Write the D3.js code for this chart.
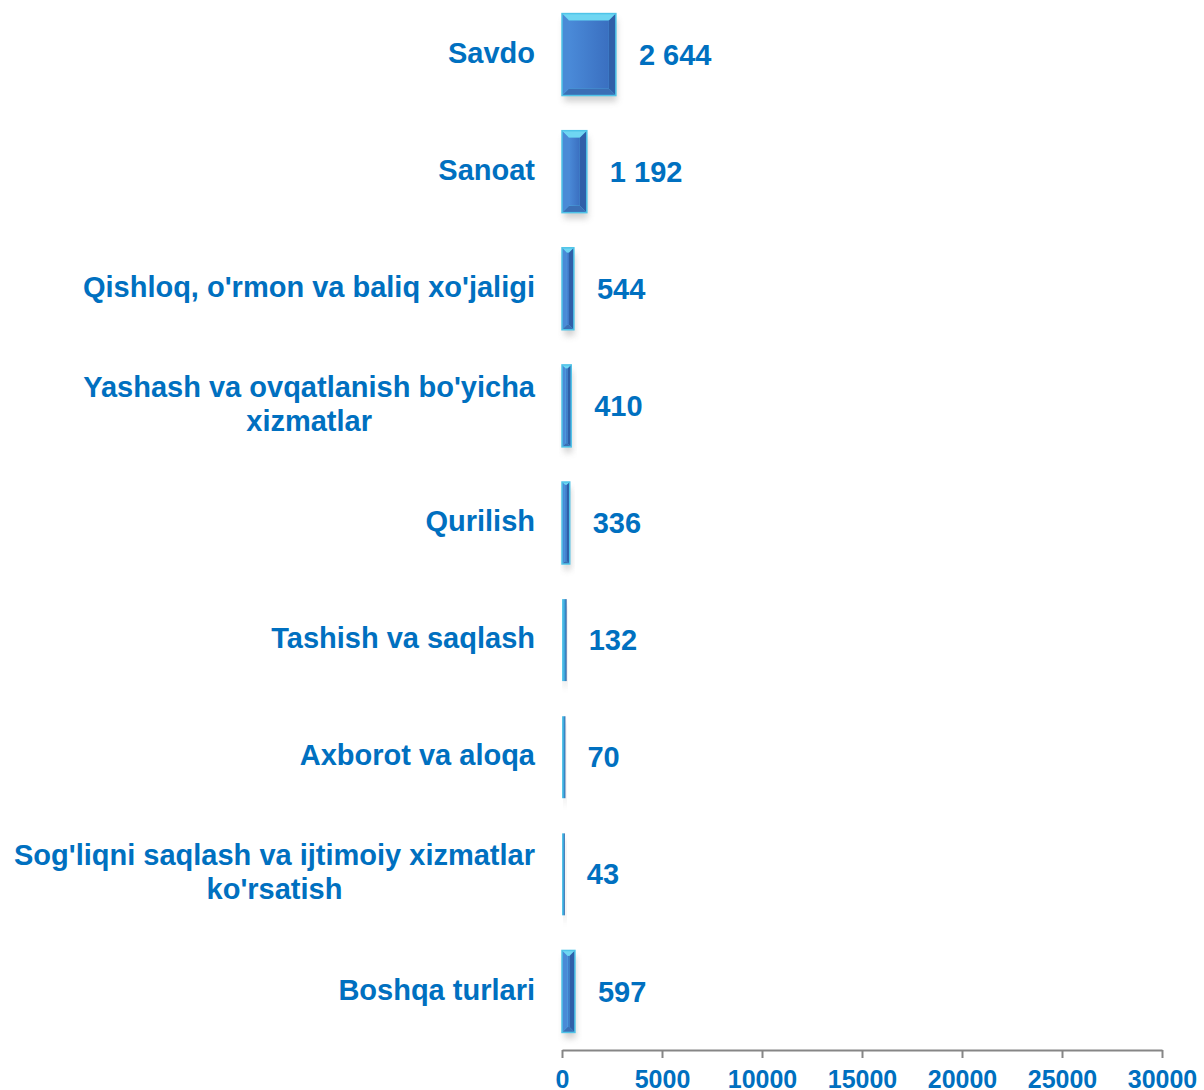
<!DOCTYPE html>
<html>
<head>
<meta charset="utf-8">
<script src="https://cdn.jsdelivr.net/npm/d3@7"></script>
<style>
  body { margin: 0; background: #fff; }
  text { font-family: "Liberation Sans", Arial, sans-serif; font-weight: bold; fill: #0070C0; }
</style>
</head>
<body>
<div id="chart"></div>
<script>
// data
var categories = [
    ["Savdo"],
    ["Sanoat"],
    ["Qishloq, o'rmon va baliq xo'jaligi"],
    ["Yashash va ovqatlanish bo'yicha", "xizmatlar"],
    ["Qurilish"],
    ["Tashish va saqlash"],
    ["Axborot va aloqa"],
    ["Sog'liqni saqlash va ijtimoiy xizmatlar", "ko'rsatish"],
    ["Boshqa turlari"]
];
var values = [2644, 1192, 544, 410, 336, 132, 70, 43, 597];
var valueLabels = ["2 644", "1 192", "544", "410", "336", "132", "70", "43", "597"];
var xTicks = [0, 5000, 10000, 15000, 20000, 25000, 30000];

var W = 1204, H = 1090;

var svg = d3.select("#chart").append("svg")
    .attr("width", W)
    .attr("height", H);

var defs = svg.append("defs");
var grad = defs.append("linearGradient").attr("id", "face")
    .attr("x1", 0).attr("y1", 0).attr("x2", 1).attr("y2", 0);
grad.append("stop").attr("offset", "0%").attr("stop-color", "#4a8ad8");
grad.append("stop").attr("offset", "100%").attr("stop-color", "#3a6fc0");
var thin = defs.append("linearGradient").attr("id", "thin")
    .attr("x1", 0).attr("y1", 0).attr("x2", 1).attr("y2", 0);
thin.append("stop").attr("offset", "0%").attr("stop-color", "#5fd0ee");
thin.append("stop").attr("offset", "60%").attr("stop-color", "#3a9fd8");
thin.append("stop").attr("offset", "100%").attr("stop-color", "#2a5aa0");
var blur = defs.append("filter").attr("id", "shadow")
    .attr("x", "-50%").attr("y", "-50%").attr("width", "200%").attr("height", "200%");
blur.append("feGaussianBlur").attr("stdDeviation", 3);

var x = d3.scaleLinear().domain([0, 30000]).range([562, 1162]);
var y = d3.scaleBand().domain(d3.range(categories.length))
    .range([-4, 1050]).paddingInner(0.3).paddingOuter(0.15);

// axis
var axis = svg.append("g")
    .attr("transform", "translate(0,1050)")
    .call(d3.axisBottom(x).tickValues(xTicks).tickSize(8).tickSizeOuter(0).tickFormat(d3.format("d")));
axis.select(".domain").attr("stroke", "#868686").attr("stroke-width", 2);
axis.selectAll(".tick line").attr("stroke", "#868686").attr("stroke-width", 2);
axis.selectAll(".tick text")
    .attr("y", 20)
    .attr("dy", "0.71em")
    .style("font-size", "25px")
    .style("font-family", "'Liberation Sans', Arial, sans-serif")
    .style("font-weight", "bold")
    .attr("fill", "#0070C0");

// bars
var bars = svg.append("g").selectAll("g.bar")
    .data(values)
    .enter().append("g").attr("class", "bar");

bars.append("rect")
    .attr("x", x(0) + 2)
    .attr("y", function (d, i) { return y(i) + 6; })
    .attr("width", function (d) { return Math.max(x(d) - x(0), 2); })
    .attr("height", y.bandwidth())
    .attr("fill", "#999")
    .attr("opacity", 0.45)
    .attr("filter", "url(#shadow)");

// bevel: face inset, top lighter, bottom/right darker
bars.each(function (d, i) {
    var g = d3.select(this);
    var x0 = x(0), x1 = x(d) + 1;
    var y0 = y(i), y1 = y0 + y.bandwidth();
    var w = x1 - x0;
    if (w < 6) {
        g.append("rect")
            .attr("x", x0).attr("y", y0)
            .attr("width", w + 1).attr("height", y1 - y0)
            .attr("fill", "url(#thin)");
        return;
    }
    var b = Math.min(7, w / 2 - 1);
    g.append("rect")
        .attr("x", x0).attr("y", y0)
        .attr("width", w).attr("height", y1 - y0)
        .attr("fill", "#4fc4e8");
    g.append("path")
        .attr("d", "M" + x0 + "," + y0 + "L" + x1 + "," + y0 + "L" + (x1 - b) + "," + (y0 + b) + "L" + (x0 + b) + "," + (y0 + b) + "Z")
        .attr("fill", "#6fd6f2");
    g.append("path")
        .attr("d", "M" + x1 + "," + y0 + "L" + x1 + "," + y1 + "L" + (x1 - b) + "," + (y1 - b) + "L" + (x1 - b) + "," + (y0 + b) + "Z")
        .attr("fill", "#2f5fa8");
    g.append("path")
        .attr("d", "M" + x0 + "," + y1 + "L" + x1 + "," + y1 + "L" + (x1 - b) + "," + (y1 - b) + "L" + (x0 + b) + "," + (y1 - b) + "Z")
        .attr("fill", "#3b6fb5");
    g.append("path")
        .attr("d", "M" + x0 + "," + y0 + "L" + (x0 + b) + "," + (y0 + b) + "L" + (x0 + b) + "," + (y1 - b) + "L" + x0 + "," + y1 + "Z")
        .attr("fill", "#4a8ad6");
    g.append("rect")
        .attr("x", x0 + b).attr("y", y0 + b)
        .attr("width", Math.max(w - 2 * b, 0)).attr("height", y1 - y0 - 2 * b)
        .attr("fill", "url(#face)");
    g.append("rect")
        .attr("x", x0).attr("y", y0)
        .attr("width", w).attr("height", y1 - y0)
        .attr("fill", "none").attr("stroke", "#4fc4e8").attr("stroke-width", 1.5);
});

// value labels
svg.append("g").selectAll("text")
    .data(values)
    .enter().append("text")
    .attr("x", function (d) { return x(d) + 24; })
    .attr("y", function (d, i) { return y(i) + y.bandwidth() / 2; })
    .attr("dy", "0.35em")
    .style("font-size", "29px")
    .text(function (d, i) { return valueLabels[i]; });

// category labels
var catG = svg.append("g");
categories.forEach(function (lines, i) {
    var cy = y(i) + y.bandwidth() / 2 - 2;
    var lh = 34;
    var t = catG.append("text")
        .style("font-size", "29px");
    lines.forEach(function (s, k) {
        t.append("tspan")
            .attr("x", 0)
            .attr("y", cy + (k - (lines.length - 1) / 2) * lh)
            .attr("dy", "0.35em")
            .text(s);
    });
    if (lines.length == 1) {
        t.attr("text-anchor", "end").selectAll("tspan").attr("x", 535);
    } else {
        var maxW = 0;
        t.selectAll("tspan").each(function () { maxW = Math.max(maxW, this.getComputedTextLength()); });
        t.attr("text-anchor", "middle").selectAll("tspan").attr("x", 535 - maxW / 2);
    }
});
</script>
</body>
</html>
